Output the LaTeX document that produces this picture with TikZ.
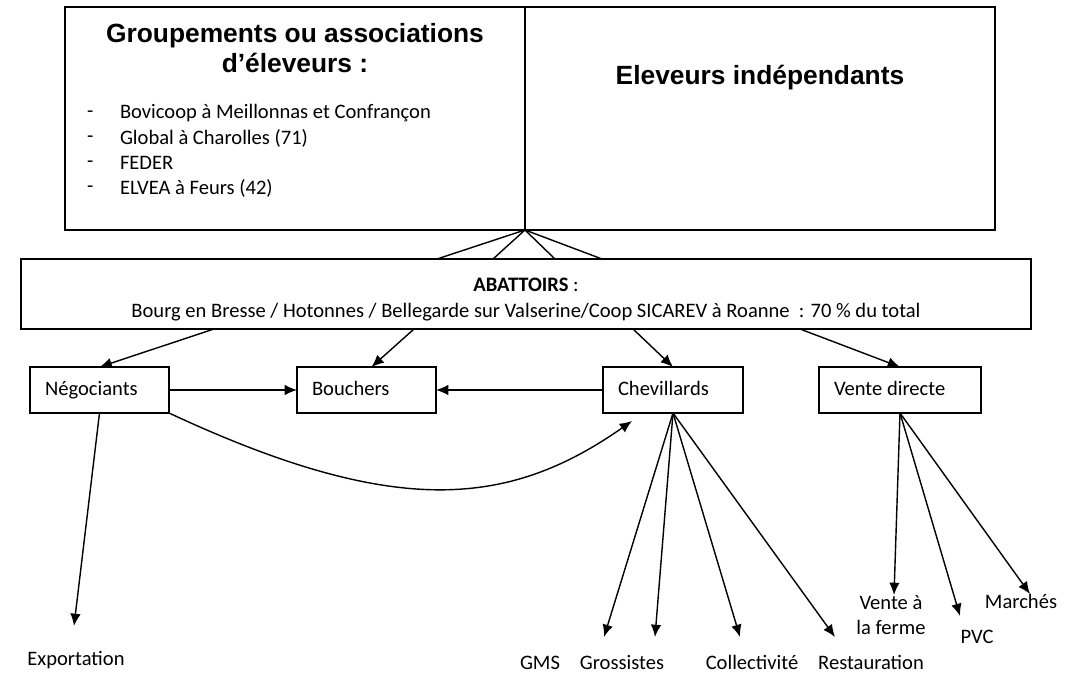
\documentclass[tikz,border=0pt]{standalone}
\usepackage{fontspec}
\setmainfont{Carlito}
\newfontfamily\arialfont{Liberation Sans}
\usetikzlibrary{arrows.meta,calc}

\begin{document}
\begin{tikzpicture}[x=0.02cm, y=-0.02cm, auto, outer sep=0pt, >={Latex[length=7pt,width=6pt]},
  font=\fontsize{11.7}{14.2}\selectfont,
  cadre/.style={draw, thick},
  etiq/.style={text height=1.8ex, text depth=0.5ex},
  boite/.style={draw, thick, minimum height=0.92cm, text width=#1, align=flush left, inner xsep=0.3cm, inner ysep=0pt, text height=1.7ex, text depth=0.4ex},
  titre/.style={font=\arialfont\bfseries\fontsize{15}{17}\selectfont, align=center}]

\useasboundingbox (0,0) rectangle (1069,675);

% eleveurs
\node[cadre, minimum width=9.2cm, minimum height=4.46cm] at (295,118.5) (grp) {};
\node[cadre, minimum width=9.4cm, minimum height=4.46cm] at (760,118.5) (indep) {};
\node[titre] at (295,48) (grptitre) {Groupements ou associations\\d’éleveurs :};
\node[titre] at (760,78) (indeptitre) {Eleveurs indépendants};
\foreach \txt [count=\i] in {Bovicoop à Meillonnas et Confrançon, Global à Charolles (71), FEDER, ELVEA à Feurs (42)} {
  \node[anchor=west, inner sep=0pt] at (87, 89+25*\i) (tiret\i) {-};
  \node[anchor=west, inner sep=0pt] at (120, 88+25*\i) (item\i) {\txt};
}

% abattoirs
\node[cadre, minimum width=20.2cm, minimum height=1.4cm] at (526,294) (abat) {};
\node[align=center, font=\fontsize{11.7}{14.7}\selectfont] at (526,299.5) (abattexte)
  {\textbf{ABATTOIRS} :\\Bourg en Bresse / Hotonnes / Bellegarde sur Valserine/Coop SICAREV à Roanne ~: 70~\% du total};
\foreach \dx in {-89,-33,29,76}
  \draw [-, thick] (grp.south east) -- ($(abat.north)+(\dx,0)$);

% intermediaires
\node[boite=2.18cm] at (99.5,390) (neg) {Négociants};
\node[boite=2.18cm] at (366.5,390) (bouch) {Bouchers};
\node[boite=2.2cm] at (673,390) (chev) {Chevillards};
\node[boite=2.64cm] at (900,390) (vente) {Vente directe};

\draw [->, thick] ($(abat.south)+(-312,0)$) -- (neg.north);
\draw [->, thick] ($(abat.south)+(-112,0)$) -- ($(bouch.north)+(5,0)$);
\draw [->, thick] ($(abat.south)+(107,0)$) -- (chev.north);
\draw [->, thick] ($(abat.south)+(274,0)$) -- (vente.north);

\draw [->, thick] (neg.east) -- (bouch.west);
\draw [->, thick] (chev.west) -- (bouch.east);
\draw [->, thick] (neg.south east) to[out=-25, in=-145, out looseness=1.38, in looseness=0.83] ($(chev.south west)+(29,8)$);

% debouches
\node[etiq] at (76,660) (export) {Exportation};
\node[etiq] at (540,664) (gms) {GMS};
\node[etiq] at (622,664) (gros) {Grossistes};
\node[etiq] at (752,664) (coll) {Collectivité};
\node[etiq] at (871,664) (resto) {Restauration};
\node[align=center] at (891,615) (ferme) {Vente à\\la ferme};
\node[etiq] at (977,638) (pvc) {PVC};
\node[etiq] at (1021,603) (marche) {Marchés};

\coordinate (exportfl) at (74,626);
\coordinate (gmsfl) at (604,637);
\coordinate (grosfl) at (655,637);
\coordinate (collfl) at (740,637);
\coordinate (restofl) at (835,637);
\coordinate (fermefl) at (894,595);
\coordinate (pvcfl) at (960,616);
\coordinate (marchefl) at (1030,594);

\draw [->, thick] (neg.south) -- (exportfl);
\foreach \fl in {gmsfl, grosfl, collfl, restofl}
  \draw [->, thick] (chev.south) -- (\fl);
\foreach \fl in {fermefl, pvcfl, marchefl}
  \draw [->, thick] (vente.south) -- (\fl);

\end{tikzpicture}
\end{document}
